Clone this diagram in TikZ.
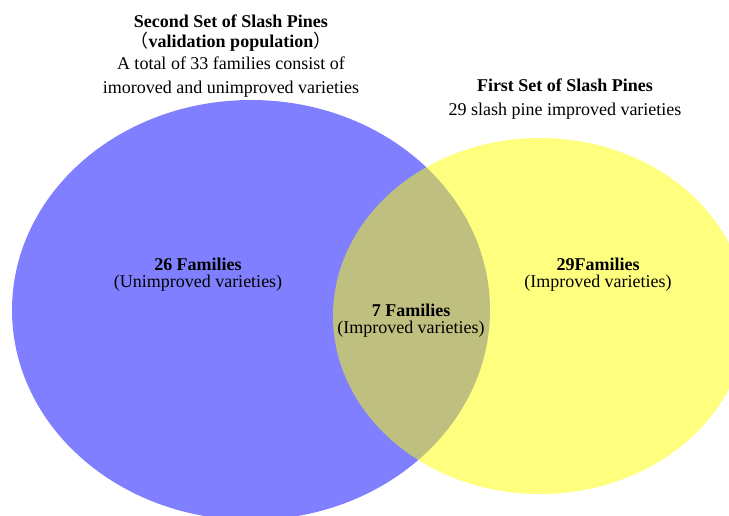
\documentclass[tikz,border=0pt]{standalone}
\usepackage{fontspec}
\setmainfont{Liberation Serif}
\newfontfamily\cjk{Noto Sans CJK SC}
\usetikzlibrary{shapes.geometric}
\definecolor{secondblue}{RGB}{0,0,255}
\definecolor{firstyellow}{RGB}{255,255,0}

\begin{document}
\begin{tikzpicture}[x = 1pt, y = -1pt,
	set/.style = {ellipse, draw = none, fill opacity = 0.5, inner sep = 0pt},
	title/.style = {font = \fontsize{18}{22}\selectfont, align = center},
	count/.style = {font = \fontsize{18}{17}\selectfont, align = center}]

	\useasboundingbox (0, 0) rectangle (729, 515);

	% Sets

	\begin{scope}
		\clip (0, 0) rectangle (729, 515);
		\node [set, fill = secondblue, minimum width = 478pt, minimum height = 420pt] (second) at (251, 310) {};
		\node [set, fill = firstyellow, minimum width = 414pt, minimum height = 356pt] (first) at (540, 316) {};
	\end{scope}

	% Set titles

	\node [title] (secondtitle) at (231, 56) {\textbf{Second Set of Slash Pines}\\[-2pt]
		{\cjk（}\textbf{validation population}{\cjk）}\\
		A total of 33 families consist of\\[2pt]
		imoroved and unimproved varieties};
	\node [title] (firsttitle) at (565, 99) {\textbf{First Set of Slash Pines}\\[2pt]
		29 slash pine improved varieties};

	% Counts

	\node [count] (onlysecond) at (198, 275) {\textbf{26 Families}\\(Unimproved varieties)};
	\node [count] (onlyfirst) at (598, 275) {\textbf{29Families}\\(Improved varieties)};
	\node [count] (both) at (411, 321) {\textbf{7 Families}\\(Improved varieties)};

\end{tikzpicture}
\end{document}
